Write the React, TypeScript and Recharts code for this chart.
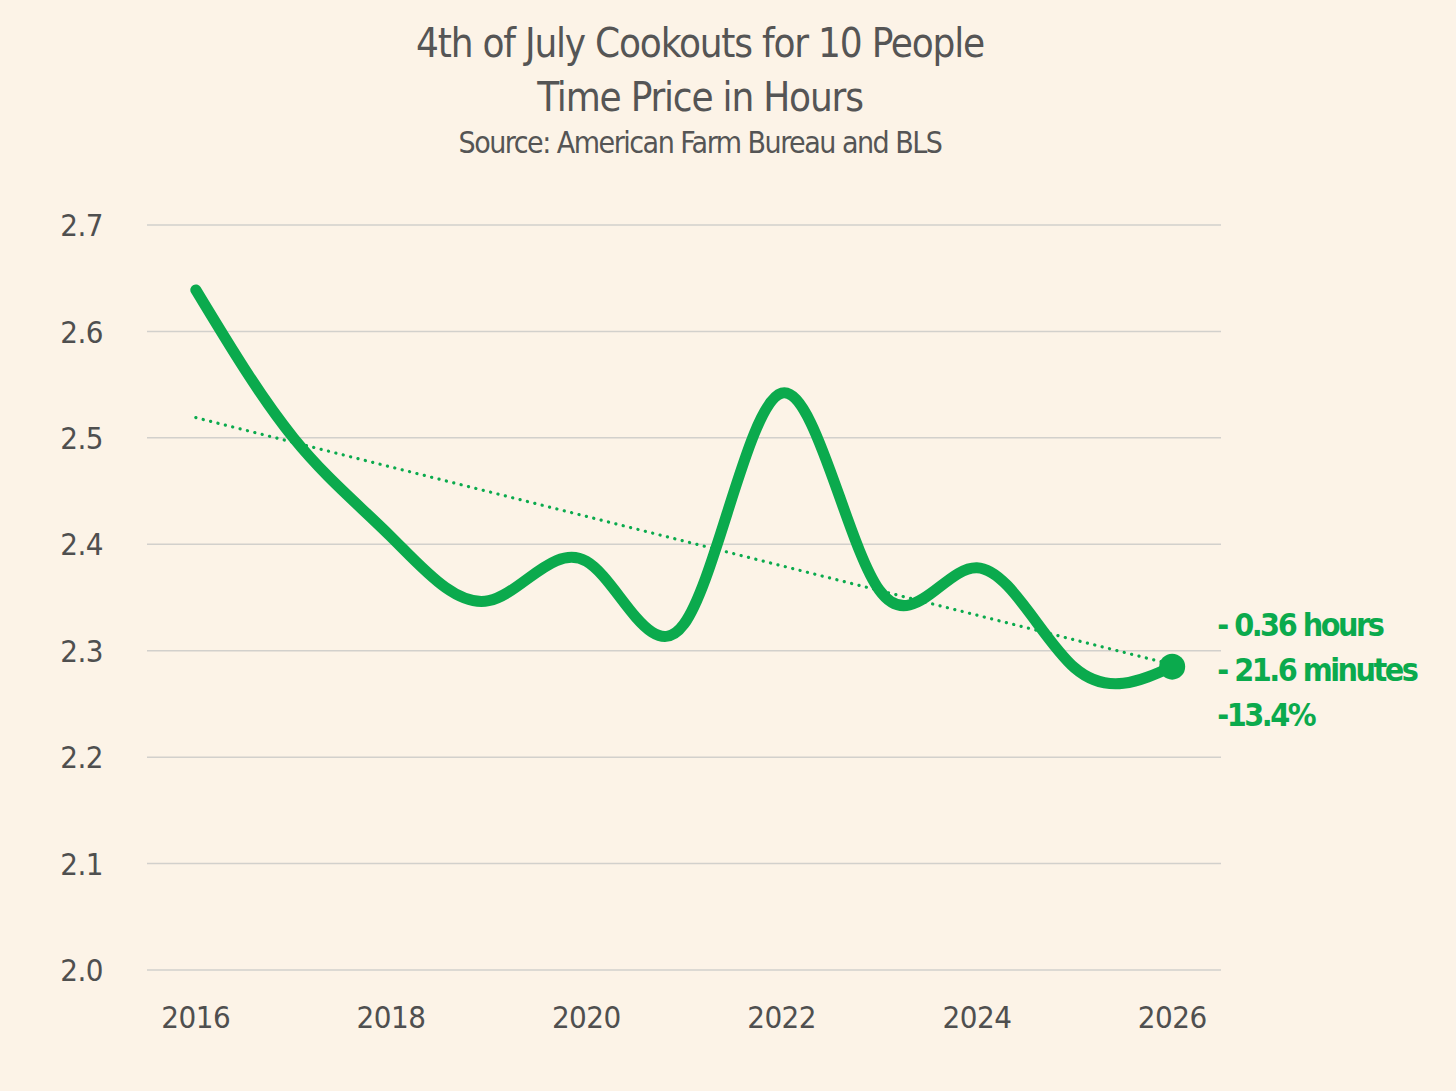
import React from 'react';
import { LineChart, Line, XAxis, YAxis, CartesianGrid, ReferenceDot } from 'recharts';

// Time price of a 4th of July cookout for 10 people, in hours
const YEARS = [2016, 2017, 2018, 2019, 2020, 2021, 2022, 2023, 2024, 2025, 2026];
const HOURS = [2.639, 2.5, 2.407, 2.347, 2.384, 2.325, 2.542, 2.357, 2.378, 2.284, 2.285];

// dotted trend line
const TREND_YEARS = [2016, 2026];
const TREND_VALUES = [2.519, 2.287];

const Y_TICKS = [2.0, 2.1, 2.2, 2.3, 2.4, 2.5, 2.6, 2.7];
const X_TICKS = [2016, 2018, 2020, 2022, 2024, 2026];

const NOTE_LINES = ['- 0.36 hours', '- 21.6 minutes', '-13.4%'];

const GREEN = '#0BAA4D';
const BG = '#FCF3E7';
const TEXT = '#4F4F4F';
const FONT = '"Liberation Sans Narrow", "DejaVu Sans Condensed", Roboto, sans-serif';

const data = YEARS.map((year, i) => {
  const t = TREND_YEARS.indexOf(year);
  return { year, hours: HOURS[i], trend: t >= 0 ? TREND_VALUES[t] : null };
});

const XTick = ({ x, y, payload }: any) => (
  <text x={x} y={y} dy={58} textAnchor="middle" fill={TEXT} fontSize={31} fontFamily={FONT} letterSpacing={-0.5}>
    {payload.value}
  </text>
);

const YTick = ({ x, y, payload }: any) => (
  <text x={x - 44} y={y} dy="0.36em" textAnchor="end" fill={TEXT} fontSize={31} fontFamily={FONT} letterSpacing={-0.5}>
    {payload.value.toFixed(1)}
  </text>
);

const NoteLabel = ({ viewBox }: any) => {
  const cx = viewBox.x + viewBox.width / 2;
  const cy = viewBox.y + viewBox.height / 2;
  return (
    <text fill={GREEN} fontSize={32} fontWeight="bold" fontFamily={FONT} letterSpacing={-2.5}>
      {NOTE_LINES.map((line, i) => (
        <tspan key={i} x={cx + 45} y={cy - 31 + i * 45}>
          {line}
        </tspan>
      ))}
    </text>
  );
};

export default function App() {
  const last = YEARS.length - 1;
  return (
    <div
      style={{
        position: 'absolute',
        left: 0,
        top: 0,
        width: 1456,
        height: 1091,
        background: BG,
        fontFamily: FONT,
      }}
    >
      <div
        style={{
          position: 'absolute',
          left: 0,
          top: 16,
          width: 1400,
          textAlign: 'center',
          color: '#555555',
        }}
      >
        <div style={{ fontSize: 40, lineHeight: '54px', letterSpacing: -1.2 }}>
          4th of July Cookouts for 10 People
        </div>
        <div style={{ fontSize: 40, lineHeight: '54px', letterSpacing: -1.2 }}>Time Price in Hours</div>
        <div style={{ fontSize: 30, lineHeight: '38px', letterSpacing: -1.5 }}>
          Source: American Farm Bureau and BLS
        </div>
      </div>
      <LineChart
        width={1456}
        height={1091}
        data={data}
        margin={{ top: 225, right: 235, bottom: 0, left: 0 }}
        style={{ position: 'absolute', left: 0, top: 0 }}
      >
        <CartesianGrid vertical={false} stroke="#D2D0CC" strokeWidth={1.5} />
        <XAxis
          dataKey="year"
          type="number"
          domain={[2015.5, 2026.5]}
          ticks={X_TICKS}
          height={121}
          axisLine={false}
          tickLine={false}
          tickSize={0}
          tickMargin={0}
          tick={<XTick />}
          interval={0}
        />
        <YAxis
          type="number"
          domain={[2.0, 2.7]}
          ticks={Y_TICKS}
          width={147}
          axisLine={false}
          tickLine={false}
          tickSize={0}
          tickMargin={0}
          tick={<YTick />}
          interval={0}
        />
        <Line
          dataKey="trend"
          connectNulls
          stroke={GREEN}
          strokeWidth={3.2}
          strokeDasharray="0.1 7.5"
          strokeLinecap="round"
          dot={false}
          isAnimationActive={false}
        />
        <Line
          dataKey="hours"
          type="natural"
          stroke={GREEN}
          strokeWidth={11}
          strokeLinecap="round"
          dot={false}
          isAnimationActive={false}
        />
        <ReferenceDot
          x={YEARS[last]}
          y={HOURS[last]}
          r={13}
          fill={GREEN}
          stroke="none"
          label={<NoteLabel />}
        />
      </LineChart>
    </div>
  );
}
